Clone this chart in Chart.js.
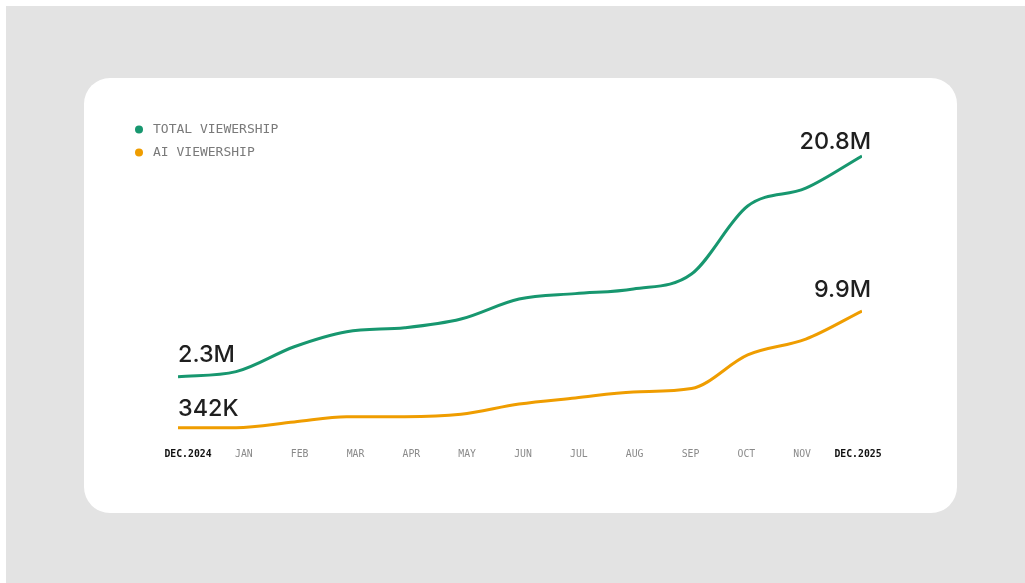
<!DOCTYPE html>
<html><head><meta charset="utf-8">
<script src="https://cdn.jsdelivr.net/npm/chart.js@4"></script>
<style>
html,body{margin:0;padding:0;background:#fff;width:1025px;height:583px;overflow:hidden}
#bg{position:absolute;left:6px;top:6px;width:1019px;height:577px;background:#e3e3e3}
#card{position:absolute;left:84px;top:78px;width:873px;height:435px;background:#fff;border-radius:26px}
#wrap{position:absolute;left:0;top:0;width:1025px;height:583px}
</style></head><body>
<div id="bg"></div><div id="card"></div>
<div id="wrap"><canvas id="c" width="1025" height="583"></canvas></div>
<script>
// ---- data ----
const months = ['2024-12-01','2025-01-01','2025-02-01','2025-03-01','2025-04-01','2025-05-01','2025-06-01','2025-07-01','2025-08-01','2025-09-01','2025-10-01','2025-11-01','2025-12-01'];
const tickLabels = ['DEC.2024','JAN','FEB','MAR','APR','MAY','JUN','JUL','AUG','SEP','OCT','NOV','DEC.2025'];
const totalViewership = [2.3, 2.72, 4.81, 6.07, 6.40, 7.13, 8.81, 9.26, 9.65, 10.9, 16.6, 18.1, 20.8]; // millions
const aiViewership    = [0.342, 0.35, 0.81, 1.24, 1.24, 1.44, 2.28, 2.78, 3.27, 3.55, 6.30, 7.6, 9.9]; // millions
const seriesNames = ['TOTAL VIEWERSHIP', 'AI VIEWERSHIP'];
const totalEndLabels = ['2.3M', '20.8M'];
const aiEndLabels = ['342K', '9.9M'];

const GREEN = '#17976f';
const ORANGE = '#ef9d00';

const dayOf = d => (Date.parse(d) - Date.parse(months[0])) / 864e5;
const xs = months.map(dayOf);

const endLabelsPlugin = {
  id: 'endLabels',
  afterDatasetsDraw(chart, args, opts) {
    const ctx = chart.ctx;
    ctx.save();
    ctx.font = '500 23.4px Inter, "Liberation Sans", Arial, sans-serif';
    ctx.fillStyle = '#1f1f1f';
    ctx.textBaseline = 'alphabetic';
    chart.data.datasets.forEach((ds, i) => {
      const meta = chart.getDatasetMeta(i);
      const pts = meta.data;
      const off = opts.offsets[i];
      const first = pts[0], last = pts[pts.length - 1];
      ctx.textAlign = 'left';
      ctx.fillText(ds.endLabels[0], first.x, first.y - off.first);
      ctx.textAlign = 'right';
      ctx.fillText(ds.endLabels[1], last.x + 9, last.y - off.last);
    });
    ctx.restore();
  }
};

const legendPlugin = {
  id: 'sideLegend',
  afterDraw(chart, args, opts) {
    const ctx = chart.ctx;
    ctx.save();
    ctx.font = '13px "DejaVu Sans Mono", monospace';
    ctx.textBaseline = 'middle';
    ctx.textAlign = 'left';
    chart.data.datasets.forEach((ds, i) => {
      const y = opts.top + i * opts.rowGap;
      ctx.fillStyle = ds.borderColor;
      ctx.beginPath();
      ctx.arc(opts.left, y, 4, 0, Math.PI * 2);
      ctx.fill();
      ctx.fillStyle = '#7a7a7a';
      ctx.fillText(ds.label, opts.left + 14, y + 0.5);
    });
    ctx.restore();
  }
};

const lastIdx = tickLabels.length - 1;

new Chart(document.getElementById('c'), {
  type: 'line',
  data: {
    datasets: [
      { label: seriesNames[0], data: xs.map((x, i) => ({ x, y: totalViewership[i] })), borderColor: GREEN, yAxisID: 'yTotal', endLabels: totalEndLabels },
      { label: seriesNames[1], data: xs.map((x, i) => ({ x, y: aiViewership[i] })), borderColor: ORANGE, yAxisID: 'yAi', endLabels: aiEndLabels }
    ]
  },
  options: {
    responsive: false,
    animation: false,
    layout: { padding: { left: 178, right: 163, top: 100, bottom: 113 } },
    elements: {
      point: { radius: 0, hoverRadius: 0 },
      line: { borderWidth: 3, cubicInterpolationMode: 'monotone', borderCapStyle: 'butt', fill: false }
    },
    plugins: {
      legend: { display: false },
      tooltip: { enabled: false },
      endLabels: { offsets: [{ first: 15, last: 7 }, { first: 12, last: 14 }] },
      sideLegend: { left: 139, top: 129.5, rowGap: 23 }
    },
    scales: {
      x: { type: 'linear', min: xs[0], max: xs[xs.length - 1], display: false },
      xLabels: {
        type: 'linear', axis: 'x', position: 'bottom', bounds: 'data',
        min: -0.1791, max: 12.0716,
        grid: { display: false, drawTicks: false },
        border: { display: false },
        afterBuildTicks: s => { s.ticks = tickLabels.map((_, i) => ({ value: i })); },
        afterFit: s => { s.height = 30; },
        ticks: {
          padding: 9, autoSkip: false, maxRotation: 0, minRotation: 0,
          callback: (v, i) => tickLabels[i],
          color: c => (c.index === 0 || c.index === lastIdx) ? '#111111' : '#8a8a8a',
          font: c => ({ family: '"DejaVu Sans Mono", monospace', size: 9.8, weight: (c.index === 0 || c.index === lastIdx) ? 'bold' : 'normal' })
        }
      },
      yTotal: { type: 'linear', display: false, min: -3.009, max: 25.49 },
      yAi: { type: 'linear', display: false, min: -0.663, max: 27.18 }
    }
  },
  plugins: [endLabelsPlugin, legendPlugin]
});
</script>
</body></html>
